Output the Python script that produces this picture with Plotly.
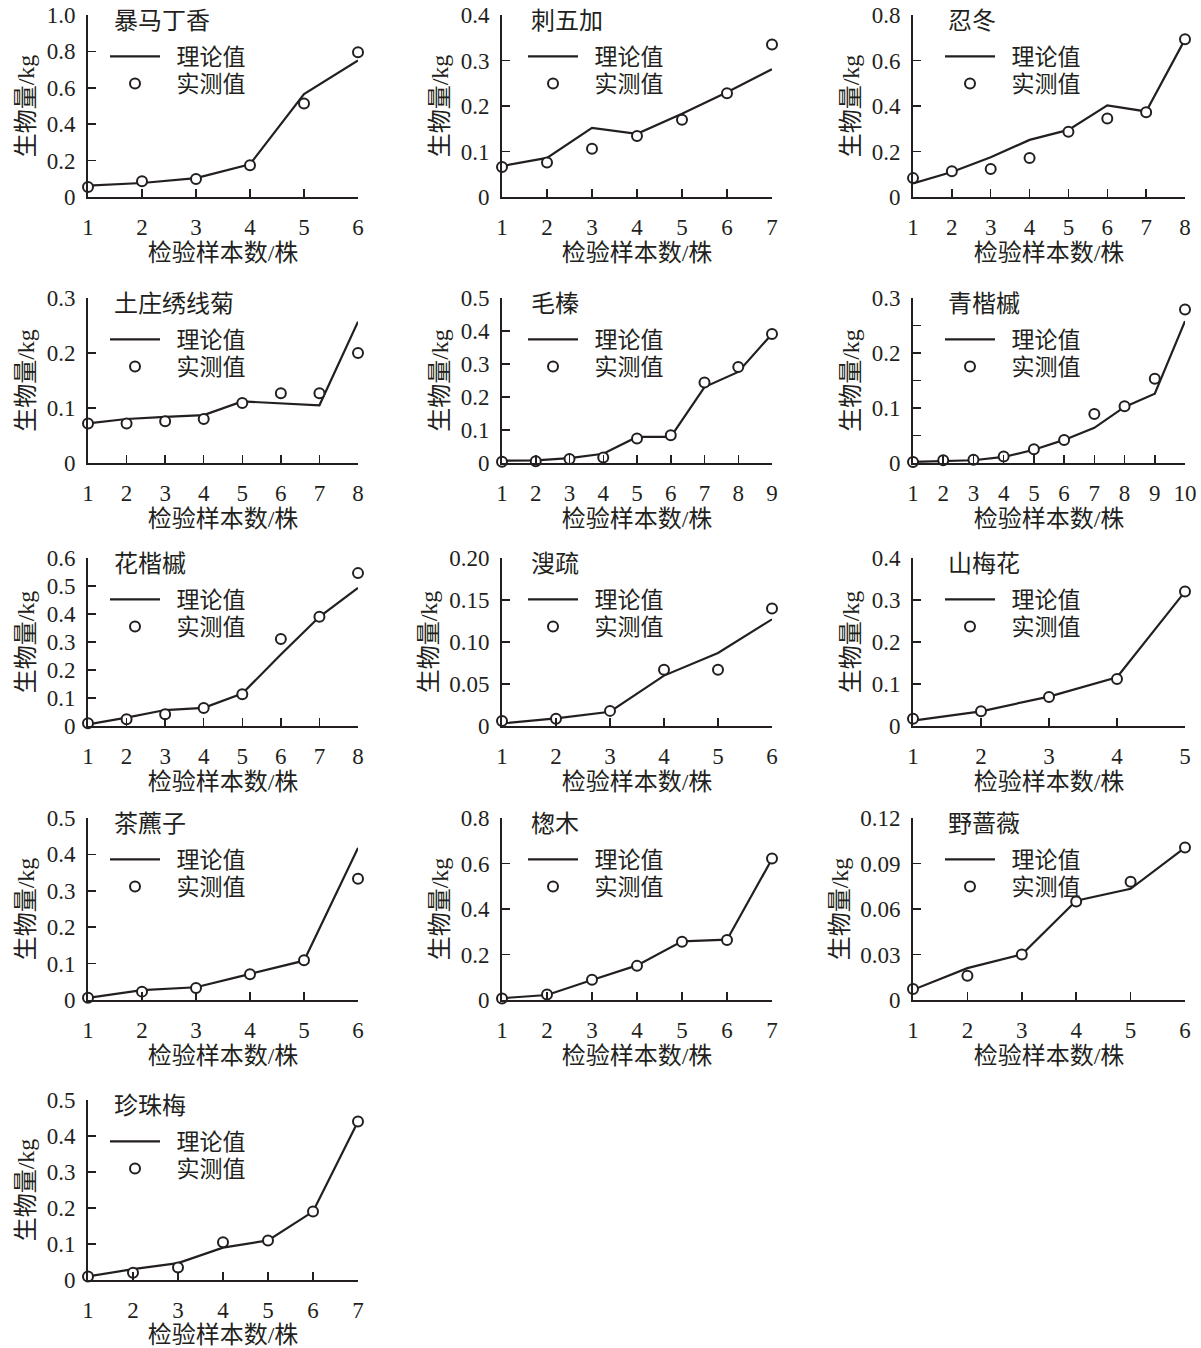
import plotly.graph_objects as go

FONT = "Liberation Serif, Noto Sans CJK SC, serif"
INK = "#231f20"
W, H = 1201, 1348

species = ["暴马丁香", "刺五加", "忍冬", "土庄绣线菊", "毛榛", "青楷槭", "花楷槭",
           "溲疏", "山梅花", "茶藨子", "楤木", "野蔷薇", "珍珠梅"]

theory_baomadingxiang = [0.062, 0.077, 0.104, 0.18, 0.565, 0.75]
measured_baomadingxiang = [0.055, 0.086, 0.099, 0.175, 0.514, 0.795]

theory_ciwujia = [0.068, 0.086, 0.152, 0.139, 0.183, 0.23, 0.281]
measured_ciwujia = [0.066, 0.076, 0.106, 0.134, 0.170, 0.228, 0.335]

theory_rendong = [0.06, 0.11, 0.175, 0.251, 0.295, 0.403, 0.376, 0.693]
measured_rendong = [0.083, 0.113, 0.123, 0.171, 0.287, 0.345, 0.373, 0.693]

theory_tuzhuang = [0.072, 0.080, 0.084, 0.087, 0.112, 0.109, 0.105, 0.257]
measured_tuzhuang = [0.072, 0.072, 0.076, 0.080, 0.109, 0.127, 0.127, 0.200]

theory_maozhen = [0.007, 0.008, 0.015, 0.028, 0.079, 0.079, 0.23, 0.276, 0.391]
measured_maozhen = [0.004, 0.005, 0.012, 0.017, 0.074, 0.084, 0.244, 0.291, 0.391]

theory_qingkaiqi = [0.002, 0.003, 0.005, 0.011, 0.024, 0.042, 0.064, 0.102, 0.126, 0.258]
measured_qingkaiqi = [0.002, 0.005, 0.006, 0.012, 0.025, 0.042, 0.089, 0.103, 0.153, 0.279]

theory_huakaiqi = [0.006, 0.03, 0.057, 0.065, 0.116, 0.255, 0.39, 0.493]
measured_huakaiqi = [0.01, 0.024, 0.042, 0.064, 0.113, 0.311, 0.39, 0.546]

theory_soushu = [0.003, 0.009, 0.017, 0.060, 0.087, 0.127]
measured_soushu = [0.006, 0.0085, 0.018, 0.067, 0.067, 0.140]

theory_shanmeihua = [0.013, 0.035, 0.070, 0.116, 0.320]
measured_shanmeihua = [0.017, 0.035, 0.069, 0.112, 0.320]

theory_chabiaozi = [0.006, 0.027, 0.035, 0.071, 0.108, 0.418]
measured_chabiaozi = [0.006, 0.023, 0.033, 0.071, 0.109, 0.333]

theory_songmu = [0.008, 0.022, 0.088, 0.152, 0.258, 0.265, 0.620]
measured_songmu = [0.007, 0.024, 0.089, 0.150, 0.256, 0.264, 0.622]

theory_yeqiangwei = [0.0067, 0.021, 0.030, 0.0655, 0.0733, 0.1005]
measured_yeqiangwei = [0.0072, 0.016, 0.030, 0.065, 0.078, 0.1005]

theory_zhenzhumei = [0.010, 0.030, 0.047, 0.090, 0.110, 0.190, 0.440]
measured_zhenzhumei = [0.010, 0.020, 0.035, 0.105, 0.110, 0.190, 0.440]

theory = [theory_baomadingxiang, theory_ciwujia, theory_rendong, theory_tuzhuang,
          theory_maozhen, theory_qingkaiqi, theory_huakaiqi, theory_soushu,
          theory_shanmeihua, theory_chabiaozi, theory_songmu, theory_yeqiangwei,
          theory_zhenzhumei]
measured = [measured_baomadingxiang, measured_ciwujia, measured_rendong, measured_tuzhuang,
            measured_maozhen, measured_qingkaiqi, measured_huakaiqi, measured_soushu,
            measured_shanmeihua, measured_chabiaozi, measured_songmu, measured_yeqiangwei,
            measured_zhenzhumei]

ytick_values = [
    [0, 0.2, 0.4, 0.6, 0.8, 1.0],
    [0, 0.1, 0.2, 0.3, 0.4],
    [0, 0.2, 0.4, 0.6, 0.8],
    [0, 0.1, 0.2, 0.3],
    [0, 0.1, 0.2, 0.3, 0.4, 0.5],
    [0, 0.05, 0.1, 0.15, 0.2, 0.25, 0.3],
    [0, 0.1, 0.2, 0.3, 0.4, 0.5, 0.6],
    [0, 0.05, 0.10, 0.15, 0.20],
    [0, 0.1, 0.2, 0.3, 0.4],
    [0, 0.1, 0.2, 0.3, 0.4, 0.5],
    [0, 0.2, 0.4, 0.6, 0.8],
    [0, 0.03, 0.06, 0.09, 0.12],
    [0, 0.1, 0.2, 0.3, 0.4, 0.5],
]
ytick_labels = [
    ["0", "0.2", "0.4", "0.6", "0.8", "1.0"],
    ["0", "0.1", "0.2", "0.3", "0.4"],
    ["0", "0.2", "0.4", "0.6", "0.8"],
    ["0", "0.1", "0.2", "0.3"],
    ["0", "0.1", "0.2", "0.3", "0.4", "0.5"],
    ["0", "", "0.1", "", "0.2", "", "0.3"],
    ["0", "0.1", "0.2", "0.3", "0.4", "0.5", "0.6"],
    ["0", "0.05", "0.10", "0.15", "0.20"],
    ["0", "0.1", "0.2", "0.3", "0.4"],
    ["0", "0.1", "0.2", "0.3", "0.4", "0.5"],
    ["0", "0.2", "0.4", "0.6", "0.8"],
    ["0", "0.03", "0.06", "0.09", "0.12"],
    ["0", "0.1", "0.2", "0.3", "0.4", "0.5"],
]

legend_names = ["理论值", "实测值"]
x_title = "检验样本数/株"
y_title = "生物量/kg"

# layout geometry (page pixels)
col_left = [88, 502, 913]
col_right = [358, 772, 1185]
row_top = [15, 298, 558, 818, 1100]
row_bottom = [197, 463, 726, 1000, 1280]
name_left = [112, 529, 946]
legend_left = [105, 523, 940]
legend_rows = [41, 68]        # item centre offsets below the axis top


def fx(px):
    return px / W


def fy(py):
    return 1 - py / H


def legend_key(k):
    return "legend" if k == 0 else f"legend{k+1}"


fig = go.Figure()
layout = dict(
    width=W, height=H, showlegend=True,
    margin=dict(l=0, r=0, t=0, b=0, autoexpand=False),
    paper_bgcolor="white", plot_bgcolor="white",
    font=dict(family=FONT, color=INK, size=22),
)
annotations = []
GAP = "\u00a0\u00a0"

for i, name in enumerate(species):
    r, c = divmod(i, 3)
    n = len(theory[i])
    xs = list(range(1, n + 1))
    xkey = "x" if i == 0 else f"x{i+1}"
    ykey = "y" if i == 0 else f"y{i+1}"
    l_line, l_mark = legend_key(2 * i), legend_key(2 * i + 1)
    fig.add_trace(go.Scatter(
        x=xs, y=theory[i], mode="lines", name=GAP + legend_names[0],
        line=dict(color=INK, width=2.2), xaxis=xkey, yaxis=ykey, legend=l_line,
        showlegend=True, cliponaxis=False))
    fig.add_trace(go.Scatter(
        x=xs, y=measured[i], mode="markers", name=GAP + legend_names[1],
        marker=dict(symbol="circle", size=10, color="white",
                    line=dict(color=INK, width=2)),
        xaxis=xkey, yaxis=ykey, legend=l_mark, showlegend=True, cliponaxis=False))

    axis_common = dict(showline=True, linecolor=INK, linewidth=2, showgrid=False,
                       zeroline=False, ticks="inside", ticklen=8, tickwidth=1.5,
                       tickcolor=INK, automargin=False, ticklabeloverflow="allow",
                       tickfont=dict(size=23, family=FONT, color=INK))
    layout["xaxis" if i == 0 else f"xaxis{i+1}"] = dict(
        domain=[fx(col_left[c]), fx(col_right[c])], anchor=ykey, range=[1, n],
        tickvals=xs, ticklabelstandoff=8,
        title=dict(text=x_title, font=dict(size=24), standoff=4),
        **axis_common)
    top = ytick_values[i][-1]
    layout["yaxis" if i == 0 else f"yaxis{i+1}"] = dict(
        domain=[fy(row_bottom[r]), fy(row_top[r])], anchor=xkey, range=[0, top],
        tickvals=ytick_values[i], ticktext=ytick_labels[i],
        ticklabelstandoff=6,
        title=dict(text=y_title, font=dict(size=24), standoff=5),
        **axis_common)
    for key, off in zip((l_line, l_mark), legend_rows):
        layout[key] = dict(
            x=fx(legend_left[c]), y=fy(row_top[r] + off - 21),
            xanchor="left", yanchor="top", bgcolor="rgba(0,0,0,0)",
            font=dict(size=23, family=FONT, color=INK),
            tracegroupgap=0, itemwidth=50)
    annotations.append(dict(
        text=name, xref="paper", yref="paper", x=fx(name_left[c]),
        y=fy(row_top[r] + 6), xanchor="left", yanchor="middle",
        showarrow=False, font=dict(size=24, family=FONT, color=INK)))

layout["annotations"] = annotations
fig.update_layout(**layout)
fig.write_html("out.html",
               config={"displayModeBar": False, "staticPlot": True},
               post_script="document.body.style.margin='0';"
                           "document.body.style.overflow='hidden';")
